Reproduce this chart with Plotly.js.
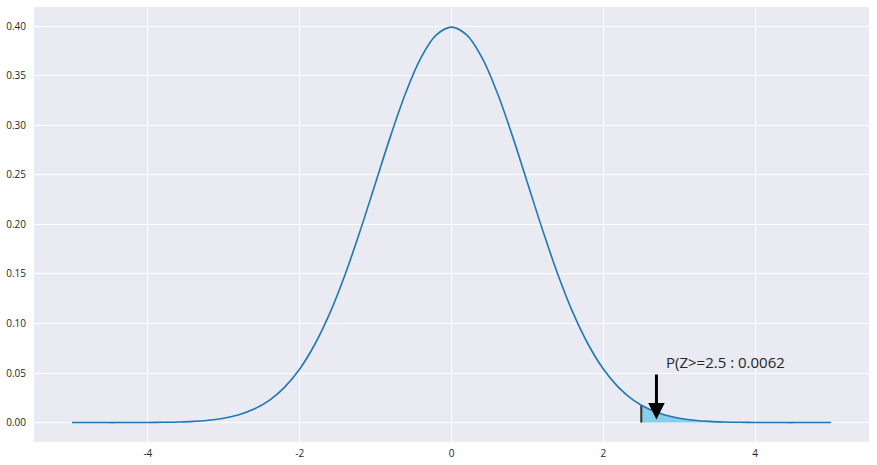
<!DOCTYPE html>
<html><head><meta charset="utf-8">
<script src="https://cdn.plot.ly/plotly-3.0.1.min.js"></script>
<style>html,body{margin:0;padding:0;background:#fff}#chart{width:877px;height:465px}</style>
</head><body><div id="chart"></div>
<script>
// Curve (standard normal density shape)
const zValues = [-5,-4.8,-4.6,-4.4,-4.2,-4,-3.8,-3.6,-3.4,-3.2,-3,-2.8,-2.6,-2.4,-2.2,-2,-1.8,-1.6,-1.4,-1.2,-1,-0.8,-0.6,-0.4,-0.2,0,0.2,0.4,0.6,0.8,1,1.2,1.4,1.6,1.8,2,2.2,2.4,2.6,2.8,3,3.2,3.4,3.6,3.8,4,4.2,4.4,4.6,4.8,5];
const density = [0.0000,0.0000,0.0000,0.0000,0.0001,0.0001,0.0003,0.0006,0.0012,0.0024,0.0044,0.0079,0.0136,0.0224,0.0355,0.0540,0.0790,0.1109,0.1497,0.1942,0.2420,0.2897,0.3332,0.3683,0.3910,0.3989,0.3910,0.3683,0.3332,0.2897,0.2420,0.1942,0.1497,0.1109,0.0790,0.0540,0.0355,0.0224,0.0136,0.0079,0.0044,0.0024,0.0012,0.0006,0.0003,0.0001,0.0001,0.0000,0.0000,0.0000,0.0000];
const tailZ = [2.5,2.6,2.8,3,3.2,3.4,3.6,3.8,4,4.2,4.4,4.6,4.8,5];
const tailDensity = [0.0175,0.0136,0.0079,0.0044,0.0024,0.0012,0.0006,0.0003,0.0001,0.0001,0.0000,0.0000,0.0000,0.0000];
const cutoff = 2.5;
const cutoffDensity = 0.0175;
const probLabel = 'P(Z>=2.5 : 0.0062';
const xTickVals = [-4,-2,0,2,4];
const xTickText = ['-4','-2','0','2','4'];
const yTickVals = [0,0.05,0.10,0.15,0.20,0.25,0.30,0.35,0.40];

const traces = [
  {x: tailZ, y: tailDensity, type:'scatter', mode:'lines', fill:'tozeroy',
   fillcolor:'#87CEEB', line:{width:0, shape:'spline', color:'#87CEEB'}, hoverinfo:'skip'},
  {x: [cutoff, cutoff], y: [0, cutoffDensity], type:'scatter', mode:'lines',
   line:{color:'#333333', width:2}},
  {x: zValues, y: density, type:'scatter', mode:'lines',
   line:{color:'#1f77b4', width:1.6, shape:'spline', smoothing:1}}
];

const layout = {
  width:877, height:465,
  margin:{l:34, r:8, t:7, b:23},
  paper_bgcolor:'#ffffff', plot_bgcolor:'#EAEAF2',
  showlegend:false,
  font:{family:'Open Sans, sans-serif', size:10, color:'#262626'},
  xaxis:{range:[-5.5,5.5], tickvals:xTickVals, ticktext:xTickText, showgrid:true,
    gridcolor:'#ffffff', gridwidth:1, zeroline:false, showline:false, ticks:'',
    ticklabelstandoff:4, tickfont:{size:10, color:'#262626'}},
  yaxis:{range:[-0.0196,0.4192], tickvals:yTickVals, tickformat:'.2f', showgrid:true,
    gridcolor:'#ffffff', gridwidth:1, zeroline:false, showline:false, ticks:'',
    ticklabelstandoff:7, tickfont:{size:10, color:'#262626'}},
  annotations:[
    {x:2.7, y:0.003, ax:2.7, ay:0.05, xref:'x', yref:'y', axref:'x', ayref:'y',
     text:'', showarrow:true, arrowhead:2, arrowsize:1.1, arrowwidth:3, arrowcolor:'#000000'},
    {x:2.8, y:0.061, xref:'x', yref:'y', text:probLabel, showarrow:false,
     xanchor:'left', yanchor:'middle', font:{size:15, color:'#262626', family:'Open Sans, sans-serif'}}
  ]
};
Plotly.newPlot('chart', traces, layout, {displayModeBar:false});
</script></body></html>
